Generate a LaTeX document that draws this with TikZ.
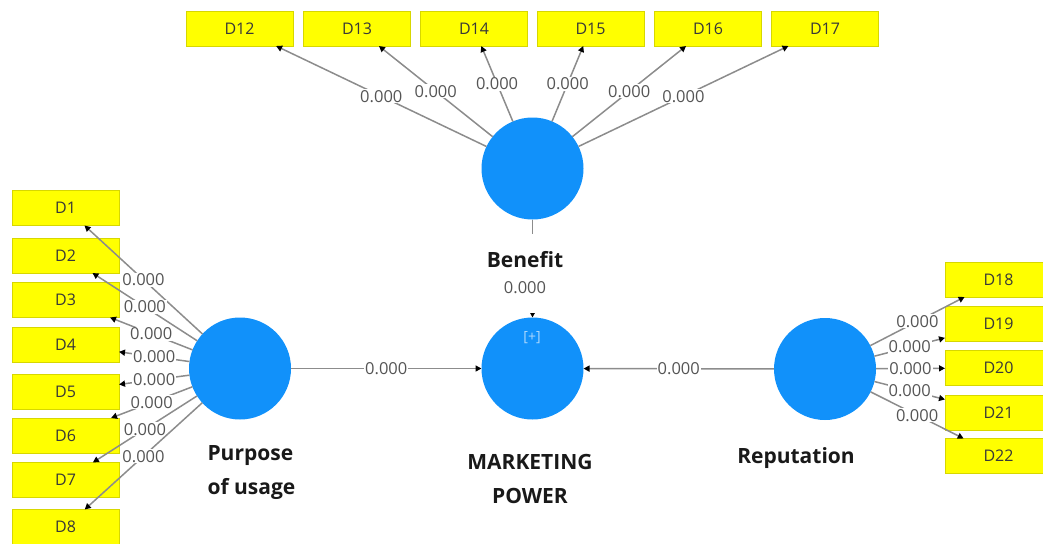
\documentclass[tikz,border=0pt]{standalone}
\usepackage{fontspec}
\setmainfont{Open Sans}
\usetikzlibrary{arrows.meta}
\definecolor{lv}{RGB}{17,145,250}
\definecolor{ind}{RGB}{255,255,0}
\definecolor{indborder}{RGB}{215,215,0}
\definecolor{edge}{RGB}{140,140,140}
\definecolor{val}{RGB}{85,85,85}
\begin{document}
\begin{tikzpicture}[x=1pt,y=-1pt,
 latent/.style={circle,fill=lv,minimum size=102pt,inner sep=0pt,outer sep=0pt},
 indic/.style={rectangle,fill=ind,draw=indborder,line width=0.6pt,minimum width=107pt,minimum height=35pt,inner sep=0pt,outer sep=0pt,font=\fontsize{16}{18}\selectfont,text=black!78},
 conn/.style={draw=edge,line width=1.5pt,-{Triangle[length=6pt,width=6pt,black]}},
 coef/.style={fill=white,inner sep=1pt,font=\fontsize{16.5}{18}\selectfont,text=val},
 lvname/.style={font=\fontsize{21}{34}\selectfont\bfseries,text=black!90}]
\useasboundingbox (0,0) rectangle (1043,543);
\clip (0,0) rectangle (1043,543);
% latent variables
\node[latent] (ben) at (532.5,168.5) {};
\node[latent] (mp) at (532.5,368.5) {};
\node[latent] (pur) at (240,368.5) {};
\node[latent] (rep) at (825,369) {};
\node[font=\fontsize{14}{15}\selectfont,text=lv!35!white] (plus) at (532,338) {[+]};
% top indicators
\node[indic] (d12) at (239.5,28.5) {D12};
\node[indic] (d13) at (357,28.5) {D13};
\node[indic] (d14) at (474,28.5) {D14};
\node[indic] (d15) at (590.5,28.5) {D15};
\node[indic] (d16) at (708,28.5) {D16};
\node[indic] (d17) at (825,28.5) {D17};
% left indicators
\node[indic] (d1) at (65.5,208) {D1};
\node[indic] (d2) at (65.5,255.5) {D2};
\node[indic] (d3) at (65.5,300) {D3};
\node[indic] (d4) at (65.5,344.5) {D4};
\node[indic] (d5) at (65.5,391.5) {D5};
\node[indic] (d6) at (65.5,435.5) {D6};
\node[indic] (d7) at (65.5,480) {D7};
\node[indic] (d8) at (65.5,527) {D8};
% right indicators
\node[indic] (d18) at (998.5,279.5) {D18};
\node[indic] (d19) at (998.5,324) {D19};
\node[indic] (d20) at (998.5,368) {D20};
\node[indic] (d21) at (998.5,413) {D21};
\node[indic] (d22) at (998.5,456) {D22};
% connectors top
\foreach \d in {d12,d13,d14,d15,d16,d17}
  \draw[conn] (ben) -- node[coef]{0.000} (\d);
% left
\foreach \d in {d1,d2,d3,d4,d5,d6,d7,d8}
  \draw[conn] (pur) -- node[coef]{0.000} (\d);
% right
\foreach \d in {d18,d19,d20,d21,d22}
  \draw[conn] (rep) -- node[coef]{0.000} (\d);
% structural paths
\draw[conn] (pur) -- node[coef]{0.000} (mp);
\draw[conn] (rep) -- node[coef]{0.000} (mp);
\draw[conn] (ben) -- (mp);
\node[lvname,fill=white,inner ysep=18pt] (benlab) at (525,260) {Benefit};
\node[coef,anchor=base,text depth=18pt,inner ysep=2pt] (bencoef) at (525,293) {0.000};
% names
\node[lvname,align=left,anchor=west] (purlab) at (204,473) {Purpose\\of usage};
\node[lvname,align=center] (mplab) at (530,478.5) {MARKETING\\POWER};
\node[lvname] (replab) at (796,458) {Reputation};
\end{tikzpicture}
\end{document}
